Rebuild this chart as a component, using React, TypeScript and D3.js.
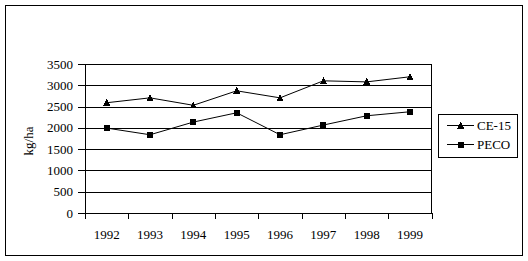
import React from "react";
import * as d3 from "d3";

const years = ["1992", "1993", "1994", "1995", "1996", "1997", "1998", "1999"];
const ce15 = [2590, 2705, 2530, 2870, 2705, 3105, 3080, 3200];
const peco = [1995, 1838, 2136, 2354, 1838, 2066, 2284, 2378];
const yTicks = [0, 500, 1000, 1500, 2000, 2500, 3000, 3500];
const seriesNames = ["CE-15", "PECO"];

const W = 528;
const H = 261;
const font = "'Liberation Serif', 'Times New Roman', serif";

function Marker({ kind, x, y }: { kind: string; x: number; y: number }) {
  if (kind === "tri") {
    return <path d={`M${x},${y - 4}L${x + 3.5},${y + 3}L${x - 3.5},${y + 3}Z`} fill="#000" />;
  }
  return <rect x={x - 3} y={y - 3} width={6} height={6} fill="#000" />;
}

export default function App() {
  const x = d3.scaleBand<string>().domain(years).range([85, 431.7]).padding(0);
  const y = d3.scaleLinear().domain([0, 3500]).range([213, 64]);
  const cx = (d: string) => (x(d) as number) + x.bandwidth() / 2;
  const line = d3
    .line<number>()
    .x((_, i) => cx(years[i]))
    .y((v) => y(v));
  const series = [
    { name: seriesNames[0], values: ce15, kind: "tri" },
    { name: seriesNames[1], values: peco, kind: "sq" },
  ];
  const boundaries = years.map((d) => x(d) as number).concat([431.7]);
  return (
    <svg
      width={W}
      height={H}
      style={{ position: "absolute", left: 0, top: 0, display: "block", background: "#fff" }}
      shapeRendering="crispEdges"
    >
      <rect x={0} y={0} width={W} height={H} fill="#fff" />
      <rect x={5.5} y={5.5} width={517} height={250} fill="none" stroke="#000" strokeWidth={1} />
      {/* gridlines */}
      {yTicks.map((t) => (
        <g key={t}>
          <line x1={78} x2={431.7} y1={Math.round(y(t)) + 0.5} y2={Math.round(y(t)) + 0.5} stroke="#000" />
          <text
            x={73}
            y={y(t) + 4.5}
            textAnchor="end"
            fontFamily={font}
            fontSize={13}
            fill="#000"
          >
            {t}
          </text>
        </g>
      ))}
      {/* plot border */}
      <line x1={85.5} x2={85.5} y1={64} y2={213} stroke="#000" />
      <line x1={431.5} x2={431.5} y1={64} y2={213} stroke="#000" />
      {/* x ticks */}
      {boundaries.map((b, i) => (
        <line key={i} x1={Math.round(b) + 0.5} x2={Math.round(b) + 0.5} y1={213} y2={219} stroke="#000" />
      ))}
      {years.map((d) => (
        <text key={d} x={cx(d)} y={239} textAnchor="middle" fontFamily={font} fontSize={13} fill="#000">
          {d}
        </text>
      ))}
      <text
        transform="translate(33,141) rotate(-90)"
        textAnchor="middle"
        fontFamily={font}
        fontSize={13}
        fill="#000"
      >
        kg/ha
      </text>
      {/* series */}
      {series.map((s) => (
        <g key={s.name}>
          <path d={line(s.values) as string} fill="none" stroke="#000" strokeWidth={1} shapeRendering="auto" />
          {s.values.map((v, i) => (
            <Marker key={i} kind={s.kind} x={cx(years[i])} y={y(v)} />
          ))}
        </g>
      ))}
      {/* legend */}
      <rect x={438.5} y={114.5} width={79} height={43} fill="#fff" stroke="#000" />
      {series.map((s, i) => {
        const ly = 125 + i * 19;
        return (
          <g key={s.name}>
            <line x1={447} x2={474} y1={ly + 0.5} y2={ly + 0.5} stroke="#000" />
            <Marker kind={s.kind} x={460.5} y={ly + 0.5} />
            <text x={477} y={ly + 4.5} fontFamily={font} fontSize={13} fill="#000">
              {s.name}
            </text>
          </g>
        );
      })}
    </svg>
  );
}
